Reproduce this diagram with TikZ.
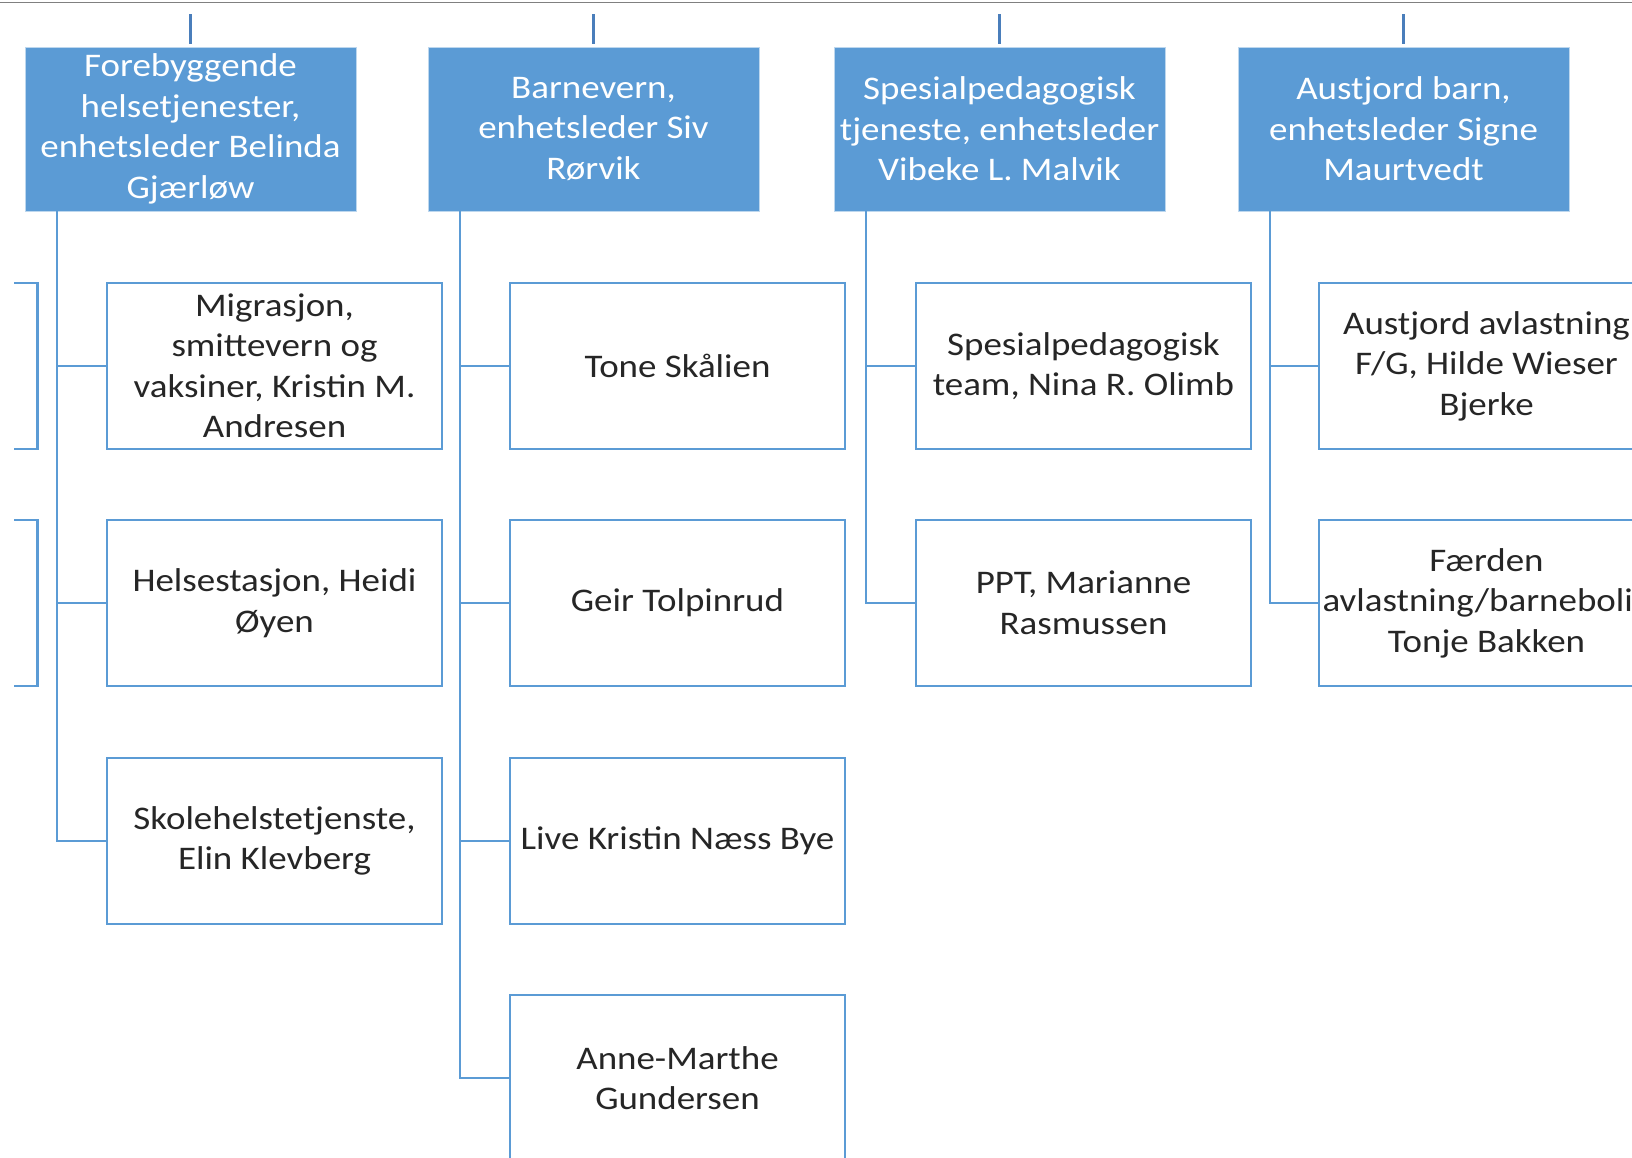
\documentclass[tikz,border=0pt]{standalone}
\usepackage{fontspec}
\setmainfont{Carlito}[FakeStretch=1.12]
\definecolor{orgblue}{HTML}{5B9BD5}
\definecolor{stubblue}{HTML}{4A7EBB}
\definecolor{namegray}{HTML}{262626}

\begin{document}
\begin{tikzpicture}[x=1pt,y=-1pt,
  head node/.style={rectangle,fill=orgblue,draw=white!60!orgblue,line width=1pt,minimum width=331pt,minimum height=164pt,inner sep=0pt,align=center,text=white,font=\fontsize{33}{40.5}\selectfont},
  member node/.style={rectangle,fill=white,draw=orgblue,line width=2.5pt,minimum width=335pt,minimum height=166pt,inner sep=0pt,align=center,text=namegray,font=\fontsize{33}{40.5}\selectfont},
  link/.style={draw=orgblue,line width=2.5pt},
  stub/.style={draw=stubblue,line width=2.5pt},
  elbow/.style={to path={|- (\tikztotarget)}}]

  \useasboundingbox (0,0) rectangle (1632,1157);
  \clip (0,0) rectangle (1632,1157);
  \draw[gray,line width=1.5pt] (0,2.5) -- (1632,2.5);

  \node[head node] (h1) at (190.5,129) {Forebyggende\\helsetjenester,\\enhetsleder Belinda\\Gjærløw};
  \node[head node] (h2) at (593.5,129) {Barnevern,\\enhetsleder Siv\\Rørvik};
  \node[head node] (h3) at (999.5,129) {Spesialpedagogisk\\tjeneste, enhetsleder\\Vibeke L. Malvik};
  \node[head node] (h4) at (1403.5,129) {Austjord barn,\\enhetsleder Signe\\Maurtvedt};

  % stubs going up to the level above
  \coordinate (s1) at (190.5,14);
  \coordinate (s2) at (593.5,14);
  \coordinate (s3) at (999.5,14);
  \coordinate (s4) at (1403.5,14);
  \path[stub]
    (s1) edge ([yshift=3pt]h1.north)
    (s2) edge ([yshift=3pt]h2.north)
    (s3) edge ([yshift=3pt]h3.north)
    (s4) edge ([yshift=3pt]h4.north);

  % cut-off boxes of the column to the left
  \begin{scope}
    \clip (14,0) rectangle (1632,1157);
    \node[member node] (m01) at (-129.8,366) {};
    \node[member node] (m02) at (-129.8,603) {};
  \end{scope}

  \node[member node] (m11) at (274.5,366) {Migrasjon,\\smittevern og\\vaksiner, Kristin M.\\Andresen};
  \node[member node] (m12) at (274.5,603) {Helsestasjon, Heidi\\Øyen};
  \node[member node] (m13) at (274.5,841) {Skolehelstetjenste,\\Elin Klevberg};

  \node[member node] (m21) at (677.5,366) {Tone Skålien};
  \node[member node] (m22) at (677.5,603) {Geir Tolpinrud};
  \node[member node] (m23) at (677.5,841) {Live Kristin Næss Bye};
  \node[member node] (m24) at (677.5,1078) {Anne-Marthe\\Gundersen};

  \node[member node] (m31) at (1083.5,366) {Spesialpedagogisk\\team, Nina R. Olimb};
  \node[member node] (m32) at (1083.5,603) {PPT, Marianne\\Rasmussen};

  \node[member node] (m41) at (1486.5,366) {Austjord avlastning\\F/G, Hilde Wieser\\Bjerke};
  \node[member node] (m42) at (1486.5,603) {Færden\\avlastning/barnebolig\\Tonje Bakken};

  \coordinate (v1) at (57,211);
  \coordinate (v2) at (460,211);
  \coordinate (v3) at (866,211);
  \coordinate (v4) at (1270,211);

  \path[link]
    (v1) edge[elbow] (m11)
    (v1) edge[elbow] (m12)
    (v1) edge[elbow] (m13)
    (v2) edge[elbow] (m21)
    (v2) edge[elbow] (m22)
    (v2) edge[elbow] (m23)
    (v2) edge[elbow] (m24)
    (v3) edge[elbow] (m31)
    (v3) edge[elbow] (m32)
    (v4) edge[elbow] (m41)
    (v4) edge[elbow] (m42)
    ;
\end{tikzpicture}
\end{document}
